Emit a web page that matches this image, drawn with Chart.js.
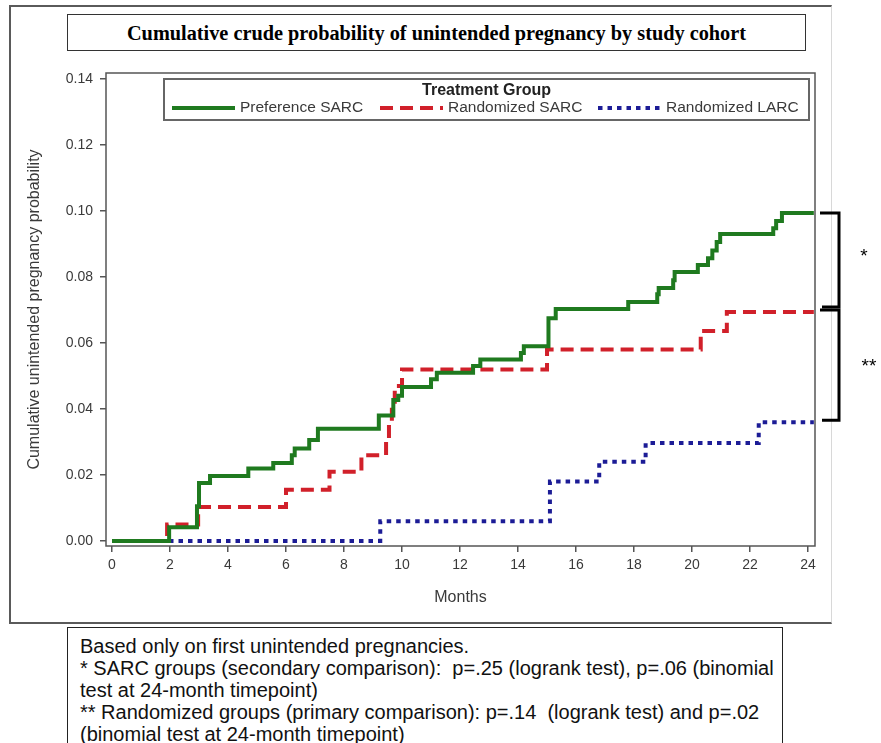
<!DOCTYPE html>
<html>
<head>
<meta charset="utf-8">
<script src="https://cdn.jsdelivr.net/npm/chart.js@4.4.1/dist/chart.umd.min.js"></script>
<style>
  body { margin: 0; background: #fff; width: 881px; height: 743px; overflow: hidden; position: relative; font-family: "Liberation Sans", Arial, sans-serif; }
  #frame { position: absolute; left: 9px; top: 5px; width: 820px; height: 615px; border: 2px solid #5a5a5a; border-right: 1px solid #d8d8d8; }
  #titleBox { position: absolute; left: 67px; top: 14px; width: 737px; height: 35px; border: 1.5px solid #333;
    font: bold 20.3px "Liberation Serif", "Times New Roman", serif; text-align: center; line-height: 36px; color: #000; }
  #chart { position: absolute; left: 0; top: 0; }
  #notes { position: absolute; left: 67px; top: 627px; width: 716px; height: 130px; border: 1px solid #222; background: #fff;
    font-size: 20px; line-height: 22px; padding: 7px 0 0 12px; box-sizing: border-box; color: #111; z-index: 2; white-space: nowrap; }
</style>
</head>
<body>
<div id="frame"></div>
<div id="titleBox">Cumulative crude probability of unintended pregnancy by study cohort</div>
<canvas id="chart" width="881" height="743"></canvas>
<div id="notes">
  Based only on first unintended pregnancies.<br>
  * SARC groups (secondary comparison):&nbsp; p=.25 (logrank test), p=.06 (binomial<br>
  test at 24-month timepoint)<br>
  ** Randomized groups (primary comparison): p=.14 &nbsp;(logrank test) and p=.02<br>
  (binomial test at 24-month timepoint)
</div>
<script>
// tick labels
const xTicks = [0, 2, 4, 6, 8, 10, 12, 14, 16, 18, 20, 22, 24];
const yTicks = [0, 0.02, 0.04, 0.06, 0.08, 0.10, 0.12, 0.14];

// Preference SARC (step times in months, cumulative probability from that time on)
const prefMonths = [0, 1.97, 2.93, 3.0, 3.38, 4.7, 5.56, 6.2, 6.3, 6.8, 7.1, 9.2, 9.7, 9.87, 10.0, 11.0, 11.2, 12.45, 12.7,
  14.1, 14.2, 15.05, 15.3, 17.8, 18.8, 18.85, 19.35, 19.4, 20.2, 20.55, 20.7, 20.85, 20.97, 22.8, 22.9, 23.1, 24.2];
const prefProb = [0, 0.0042, 0.0105, 0.0176, 0.0197, 0.022, 0.0236, 0.026, 0.028, 0.0306, 0.034, 0.038, 0.0427, 0.044, 0.0467, 0.049, 0.051, 0.053, 0.055,
  0.057, 0.059, 0.0675, 0.0703, 0.0724, 0.0748, 0.0767, 0.079, 0.0815, 0.0836, 0.0857, 0.088, 0.0906, 0.093, 0.0948, 0.097, 0.0994, 0.0994];

// Randomized SARC
const randSarcMonths = [0, 1.9, 2.97, 6.0, 7.5, 8.6, 9.45, 9.55, 9.65, 9.75, 10.0, 15.0, 20.3, 21.2, 24.2];
const randSarcProb = [0, 0.005, 0.0103, 0.0155, 0.021, 0.026, 0.031, 0.036, 0.041, 0.047, 0.052, 0.058, 0.0636, 0.0694, 0.0694];

// Randomized LARC
const randLarcMonths = [0, 9.25, 15.1, 16.8, 18.4, 22.3, 24.2];
const randLarcProb = [0, 0.006, 0.018, 0.024, 0.0297, 0.036, 0.036];

const groupNames = ['Preference SARC', 'Randomized SARC', 'Randomized LARC'];

function toPoints(xs, ys) {
  return xs.map((x, i) => ({ x: x, y: ys[i] }));
}

const axisColor = '#555';
const textColor = '#3a3a3a';

const plotFrame = {
  id: 'plotFrame',
  afterDatasetsDraw(chart) {
    const { ctx, chartArea: a } = chart;
    ctx.save();
    ctx.strokeStyle = axisColor;
    ctx.lineWidth = 1.5;
    ctx.strokeRect(a.left, a.top, a.right - a.left, a.bottom - a.top);
    ctx.restore();
  }
};

const legendBox = {
  id: 'legendBox',
  afterDatasetsDraw(chart) {
    const { ctx, chartArea: a } = chart;
    const left = a.left + 58, top = a.top + 6, right = a.right - 6, bottom = top + 41;
    ctx.save();
    ctx.fillStyle = '#fff';
    ctx.fillRect(left, top, right - left, bottom - top);
    ctx.strokeStyle = '#666';
    ctx.lineWidth = 2;
    ctx.strokeRect(left, top, right - left, bottom - top);
    ctx.fillStyle = '#222';
    ctx.font = 'bold 16px "Liberation Sans", Arial, sans-serif';
    ctx.textAlign = 'center';
    ctx.textBaseline = 'middle';
    ctx.fillText('Treatment Group', (left + right) / 2, top + 12);
    const offs = [8, 216, 434];
    chart.data.datasets.forEach((ds, i) => {
      const x = left + offs[i], y = top + 29;
      ctx.beginPath();
      ctx.setLineDash(ds.borderDash || []);
      ctx.strokeStyle = ds.borderColor;
      ctx.lineWidth = ds.borderWidth;
      ctx.moveTo(x, y);
      ctx.lineTo(x + 63, y);
      ctx.stroke();
      ctx.setLineDash([]);
      ctx.fillStyle = textColor;
      ctx.font = '15.5px "Liberation Sans", Arial, sans-serif';
      ctx.textAlign = 'left';
      ctx.fillText(ds.label, x + 68, y);
    });
    ctx.restore();
  }
};

// brackets at right side, placed from the last value of each curve
const brackets = {
  id: 'brackets',
  afterDraw(chart) {
    const { ctx, scales: { y } } = chart;
    const yTop = y.getPixelForValue(prefProb[prefProb.length - 1]);
    const yMid = y.getPixelForValue(randSarcProb[randSarcProb.length - 1]);
    const yBot = y.getPixelForValue(randLarcProb[randLarcProb.length - 1]);
    const x0 = 820, x1 = 839;
    ctx.save();
    ctx.strokeStyle = '#000';
    ctx.lineWidth = 3;
    ctx.beginPath();
    ctx.moveTo(x0, yTop); ctx.lineTo(x1, yTop); ctx.lineTo(x1, yMid - 5); ctx.lineTo(x0 + 2, yMid - 5);
    ctx.stroke();
    ctx.beginPath();
    ctx.moveTo(x0, yMid - 2); ctx.lineTo(x1, yMid - 2); ctx.lineTo(x1, yBot - 2); ctx.lineTo(x0 + 2, yBot - 2);
    ctx.stroke();
    ctx.fillStyle = '#000';
    ctx.font = '19px "Liberation Sans", Arial, sans-serif';
    ctx.textAlign = 'center';
    ctx.textBaseline = 'middle';
    ctx.fillText('*', 864, (yTop + yMid) / 2 - 6);
    ctx.fillText('**', 869, (yMid + yBot) / 2);
    ctx.restore();
  }
};

new Chart(document.getElementById('chart'), {
  type: 'line',
  data: {
    datasets: [
      {
        label: groupNames[0],
        data: toPoints(prefMonths, prefProb),
        borderColor: '#1f7a1f',
        borderWidth: 4,
        stepped: 'before',
        pointRadius: 0
      },
      {
        label: groupNames[1],
        data: toPoints(randSarcMonths, randSarcProb),
        borderColor: '#d1202a',
        borderWidth: 4,
        borderDash: [13, 7],
        stepped: 'before',
        pointRadius: 0
      },
      {
        label: groupNames[2],
        data: toPoints(randLarcMonths, randLarcProb),
        borderColor: '#1c1c96',
        borderWidth: 4,
        borderDash: [4.5, 5],
        stepped: 'before',
        pointRadius: 0
      }
    ]
  },
  options: {
    responsive: false,
    animation: false,
    layout: { padding: { left: 10, top: 73, right: 66, bottom: 128 } },
    plugins: {
      legend: { display: false },
      tooltip: { enabled: false }
    },
    scales: {
      x: {
        type: 'linear',
        min: -0.207,
        max: 24.24,
        afterBuildTicks: (s) => { s.ticks = xTicks.map(v => ({ value: v })); },
        afterFit: (s) => { s.height = 69; },
        ticks: { autoSkip: false, maxRotation: 0, padding: 5, color: textColor,
          font: { size: 14, family: '"Liberation Sans", Arial, sans-serif' },
          callback: (v) => String(v) },
        grid: { drawOnChartArea: false, drawTicks: true, tickLength: 6, color: axisColor, lineWidth: 1.5 },
        border: { display: false },
        title: { display: true, text: 'Months', color: textColor,
          font: { size: 16, family: '"Liberation Sans", Arial, sans-serif' }, padding: { top: 0, bottom: 8 } }
      },
      y: {
        type: 'linear',
        min: -0.001515,
        max: 0.141818,
        afterBuildTicks: (s) => { s.ticks = yTicks.map(v => ({ value: v })); },
        afterFit: (s) => { s.width = 96; },
        ticks: { padding: 7, color: textColor,
          font: { size: 14, family: '"Liberation Sans", Arial, sans-serif' },
          callback: (v) => Number(v).toFixed(2) },
        grid: { drawOnChartArea: false, drawTicks: true, tickLength: 6, color: axisColor, lineWidth: 1.5 },
        border: { display: false },
        title: { display: true, text: 'Cumulative unintended pregnancy probability', color: textColor,
          font: { size: 16, family: '"Liberation Sans", Arial, sans-serif' }, padding: { top: 15, bottom: 0 } }
      }
    }
  },
  plugins: [plotFrame, legendBox, brackets]
});
</script>
</body>
</html>
